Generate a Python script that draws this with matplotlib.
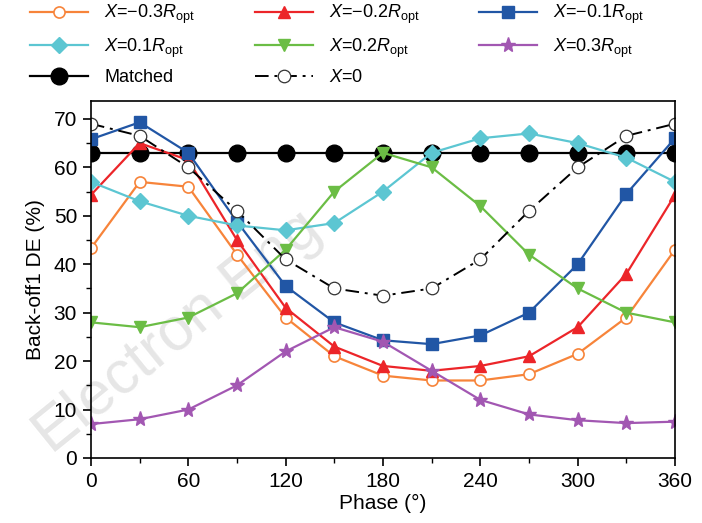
import numpy as np
import matplotlib.pyplot as plt
from matplotlib.ticker import MultipleLocator

plt.rcParams["font.family"] = ["Liberation Sans", "DejaVu Sans"]
plt.rcParams["mathtext.fontset"] = "custom"
plt.rcParams["mathtext.it"] = "Liberation Sans:italic"
plt.rcParams["mathtext.rm"] = "Liberation Sans"

phase = [0, 30, 60, 90, 120, 150, 180, 210, 240, 270, 300, 330, 360]

x_m03 = [43.3, 57, 56, 42, 29, 21, 17, 16, 16, 17.3, 21.5, 29, 43]
x_m02 = [54.3, 65, 61.5, 45, 31, 23, 19, 18, 19, 21, 27, 38, 54.3]
x_m01 = [65.8, 69.3, 63, 48.8, 35.5, 28, 24.3, 23.5, 25.3, 30, 40, 54.5, 66]
x_p01 = [57, 53, 50, 48, 47, 48.5, 55, 63, 66, 67, 65, 62, 57]
x_p02 = [28, 27, 29, 34, 43, 55, 63, 60, 52, 42, 35, 30, 28]
x_p03 = [7, 8, 10, 15, 22, 27, 24, 18, 12, 9, 7.8, 7.2, 7.5]
matched = [63] * 13
x_zero = [69, 66.5, 60, 51, 41, 35, 33.5, 35, 41, 51, 60, 66.5, 69]

fig = plt.figure(figsize=(7.02, 5.23), dpi=100)
ax = fig.add_axes([0.1296, 0.1243, 0.8319, 0.6826])
ax.set_facecolor("none")

# faint watermark
fig.text(0.035, 0.11, "Electron Eng", fontsize=44, color="#e6e6e6",
         rotation=39, ha="left", va="bottom", zorder=0)

lw = 1.6
l1, = ax.plot(phase, x_m03, "-o", color="#F7843A", lw=lw, ms=8,
              mfc="white", mec="#F7843A", mew=1.2,
              label=r"$X$=−0.3$R_{\mathrm{opt}}$")
l2, = ax.plot(phase, x_m02, "-^", color="#EC2529", lw=lw, ms=9,
              label=r"$X$=−0.2$R_{\mathrm{opt}}$")
l3, = ax.plot(phase, x_m01, "-s", color="#2156A5", lw=lw, ms=8,
              label=r"$X$=−0.1$R_{\mathrm{opt}}$")
l4, = ax.plot(phase, x_p01, "-D", color="#5CC6D2", lw=lw, ms=8,
              label=r"$X$=0.1$R_{\mathrm{opt}}$")
l5, = ax.plot(phase, x_p02, "-v", color="#6BBD45", lw=lw, ms=9,
              label=r"$X$=0.2$R_{\mathrm{opt}}$")
l6, = ax.plot(phase, x_p03, "-*", color="#A257B2", lw=lw, ms=11,
              label=r"$X$=0.3$R_{\mathrm{opt}}$")
l7, = ax.plot(phase, matched, "-o", color="black", lw=lw, ms=12,
              label="Matched", zorder=1.5)
l8, = ax.plot(phase, x_zero, "-.o", color="black", lw=1.4, ms=9,
              mfc="white", mec="#333333", mew=0.9,
              dashes=(7, 3, 1.5, 3), label=r"$X$=0")
ax.set_zorder(1)

ax.set_xlim(0, 360)
ax.set_ylim(0, 73.7)
ax.xaxis.set_major_locator(MultipleLocator(60))
ax.xaxis.set_minor_locator(MultipleLocator(30))
ax.yaxis.set_major_locator(MultipleLocator(10))
ax.yaxis.set_minor_locator(MultipleLocator(5))
ax.tick_params(which="major", direction="out", length=6, width=1.2,
               labelsize=15, pad=4)
ax.tick_params(which="minor", direction="out", length=3.5, width=1.0)
for sp in ax.spines.values():
    sp.set_linewidth(1.2)

ax.set_xlabel("Phase (°)", fontsize=15, labelpad=2)
ax.set_ylabel("Back-off1 DE (%)", fontsize=15, labelpad=6)

# column-major fill so the legend reads row by row like the original
fig.legend(handles=[l1, l4, l7, l2, l5, l8, l3, l6], loc="upper left",
           bbox_to_anchor=(0.02, 1.025), ncol=3, frameon=False, fontsize=13,
           handlelength=3.2, columnspacing=3.3, labelspacing=0.55,
           handletextpad=0.9)

fig.savefig("out.png", dpi=100)
